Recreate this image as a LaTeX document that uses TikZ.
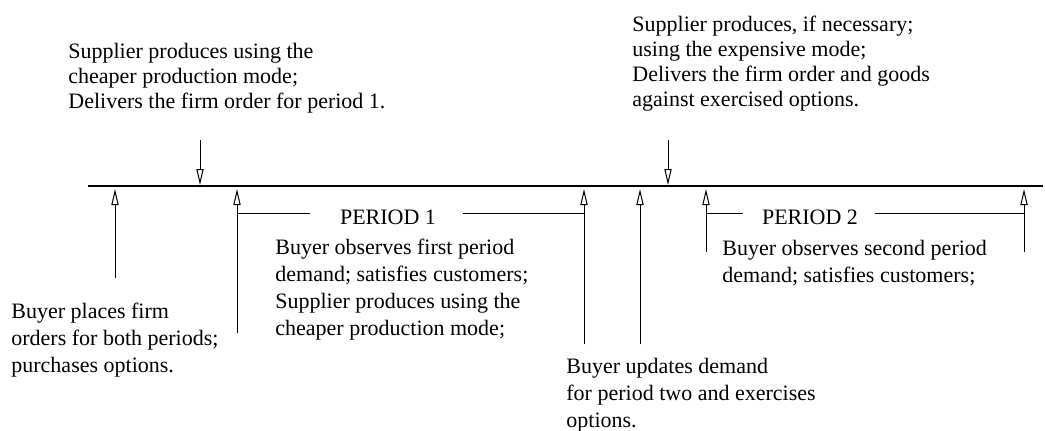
\documentclass[tikz,border=0pt]{standalone}
\usepackage{fontspec}
\setmainfont{Liberation Serif}
\usetikzlibrary{arrows.meta}
\begin{document}
\begin{tikzpicture}[
            x=0.5pt, y=-0.5pt,
            event/.style={-{Triangle[open,length=8pt,width=3.6pt]}, line width=0.5pt},
            note/.style={align=left, inner sep=0pt, anchor=base west,
                font=\fontsize{11}{#1}\selectfont},
            note/.default=13.5pt,
            tag/.style={inner sep=0pt, anchor=base, font=\fontsize{11}{13}\selectfont}
        ]
        \useasboundingbox (0,0) rectangle (1045,430);
        % time axis
        \draw[line width=0.7pt] (88,186) coordinate (axisL) -- (1043,186) coordinate (axisR);
        % supplier events
        \coordinate (s1) at (200,140);
        \coordinate (s1t) at (200,185);
        \coordinate (s2) at (668,140);
        \coordinate (s2t) at (668,185);
        \draw[event] (s1) -- (s1t);
        \draw[event] (s2) -- (s2t);
        % buyer events
        \coordinate (b1) at (115,278);
        \coordinate (b1t) at (115,189);
        \coordinate (b2) at (237,333);
        \coordinate (b2t) at (237,189);
        \coordinate (b3) at (584,344);
        \coordinate (b3t) at (584,189);
        \coordinate (b4) at (640,344);
        \coordinate (b4t) at (640,189);
        \coordinate (b5) at (706,252);
        \coordinate (b5t) at (706,189);
        \coordinate (b6) at (1024,252);
        \coordinate (b6t) at (1024,189);
        \draw[event] (b1) -- (b1t);
        \draw[event] (b2) -- (b2t);
        \draw[event] (b3) -- (b3t);
        \draw[event] (b4) -- (b4t);
        \draw[event] (b5) -- (b5t);
        \draw[event] (b6) -- (b6t);
        % periods
        \node[tag] (per1) at (388,224) {PERIOD 1};
        \draw[line width=0.5pt] (237,213) -- (310,213);
        \draw[line width=0.5pt] (463,213) -- (584,213);
        \node[tag] (per2) at (810,224) {PERIOD 2};
        \draw[line width=0.5pt] (706,213) -- (743,213);
        \draw[line width=0.5pt] (875,213) -- (1024,213);
        % texts (placed by the baseline of their last line)
        \node[note=12.5pt] (sup1) at (68,108)
            {Supplier produces using the\\cheaper production mode;\\Delivers the firm order for period 1.};
        \node[note=12.5pt] (sup2) at (632,106)
            {Supplier produces, if necessary;\\using the expensive mode;\\Delivers the firm order and goods\\against exercised options.};
        \node[note] (buy1) at (11,372)
            {Buyer places firm\\orders for both periods;\\purchases options.};
        \node[note] (buy2) at (275,335)
            {Buyer observes first period\\demand; satisfies customers;\\Supplier produces using the\\cheaper production mode;};
        \node[note] (buy3) at (566,427)
            {Buyer updates demand\\for period two and exercises\\options.};
        \node[note] (buy4) at (722,282)
            {Buyer observes second period\\demand; satisfies customers;};
    \end{tikzpicture}
\end{document}
